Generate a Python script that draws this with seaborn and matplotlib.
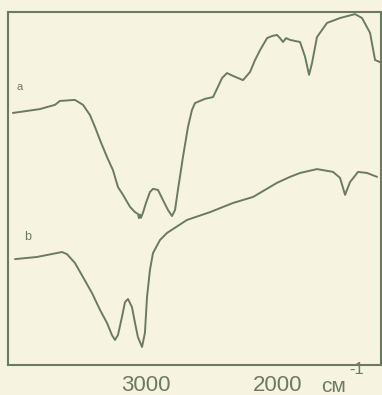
import numpy as np
import pandas as pd
import matplotlib
matplotlib.use('Agg')
import matplotlib.pyplot as plt
import seaborn as sns

# IR spectra: wavenumber (cm-1) and transmittance (arb. %)
wn_a = [4008, 3803, 3689, 3652, 3538, 3477, 3424, 3386, 3348, 3295, 3250, 3212, 3174, 3121,
        3083, 3061, 3053, 3045, 3038, 3023, 3000, 2970, 2947, 2909, 2871, 2833, 2803, 2780,
        2758, 2720, 2682, 2652, 2629, 2553, 2492, 2455, 2424, 2386, 2341, 2265, 2212, 2174,
        2136, 2083, 2045, 2008, 1985, 1962, 1939, 1909, 1833, 1795, 1765, 1742, 1705, 1629,
        1530, 1417, 1364, 1303, 1265, 1227]
t_a = [71.4, 72.5, 73.7, 74.8, 75.1, 73.7, 70.8, 67.4, 63.7, 58.9, 55.2, 50.4, 48.2, 44.8,
       43.3, 42.8, 41.6, 42.6, 41.7, 43.1, 45.9, 49.0, 49.9, 49.6, 46.7, 43.9, 42.2, 43.9,
       49.6, 58.9, 67.4, 72.2, 74.2, 75.4, 75.9, 78.8, 81.3, 82.7, 81.9, 80.7, 83.0, 86.4,
       89.2, 92.6, 93.2, 93.5, 92.6, 91.5, 92.6, 92.1, 91.5, 87.3, 82.2, 85.6, 92.9, 96.9,
       98.3, 99.4, 98.3, 94.1, 86.4, 85.8]

wn_b = [3992, 3826, 3636, 3598, 3538, 3477, 3409, 3348, 3295, 3258, 3235, 3212, 3182, 3159,
        3136, 3106, 3083, 3061, 3030, 3008, 2992, 2970, 2947, 2894, 2841, 2689, 2515, 2341,
        2189, 2008, 1909, 1833, 1705, 1583, 1530, 1492, 1455, 1394, 1326, 1250]
t_b = [30.0, 30.6, 32.0, 31.4, 28.9, 24.9, 20.4, 15.6, 11.9, 8.5, 7.1, 8.5, 13.6, 17.8,
       18.7, 16.4, 11.9, 7.9, 5.1, 9.1, 19.3, 26.9, 31.7, 35.4, 37.4, 41.1, 43.3, 45.9,
       47.6, 51.6, 53.3, 54.4, 55.5, 54.7, 53.0, 48.2, 51.8, 54.7, 54.4, 53.3]

tick_pos = [3000, 2000]
tick_labels = ['3000', '2000']

spec = pd.concat([
    pd.DataFrame({'wn': wn_a, 'T': t_a, 'sample': 'a'}),
    pd.DataFrame({'wn': wn_b, 'T': t_b, 'sample': 'b'}),
])

paper = '#f6f4e0'
ink = '#6b7a63'

sns.set_style('white')
plt.rcParams['font.family'] = ['Liberation Sans Narrow', 'Liberation Sans', 'DejaVu Sans']

fig = plt.figure(figsize=(3.82, 3.95), dpi=100, facecolor=paper)
ax = fig.add_axes([8 / 382, 30 / 395, 373 / 382, 353 / 395])
ax.set_facecolor(paper)

sns.lineplot(data=spec, x='wn', y='T', units='sample', estimator=None, sort=False,
             color=ink, linewidth=1.4, ax=ax, legend=False)

ax.set_xlim(4045, 1220)
ax.set_ylim(0, 100)
ax.set_xticks(tick_pos)
ax.set_xticklabels(tick_labels, fontsize=16, color=ink)
ax.set_yticks([])
ax.tick_params(axis='x', direction='in', length=4, width=1, color=ink, pad=7)
ax.set_xlabel('')
ax.set_ylabel('')
for s in ax.spines.values():
    s.set_color(ink)
    s.set_linewidth(1.5)

# curve labels
ax.text(3955, 78.8, 'a', fontsize=8, color=ink, ha='center', va='center')
ax.text(3894, 36.3, 'b', fontsize=9, color=ink, ha='center', va='center')

# unit label
fig.text(334 / 382, 1 - 386 / 395, 'см', fontsize=15, color=ink, ha='center', va='center')
fig.text(357 / 382, 1 - 369 / 395, '-1', fontsize=12, color=ink, ha='center', va='center')

fig.savefig('out.png', dpi=100, facecolor=paper)
